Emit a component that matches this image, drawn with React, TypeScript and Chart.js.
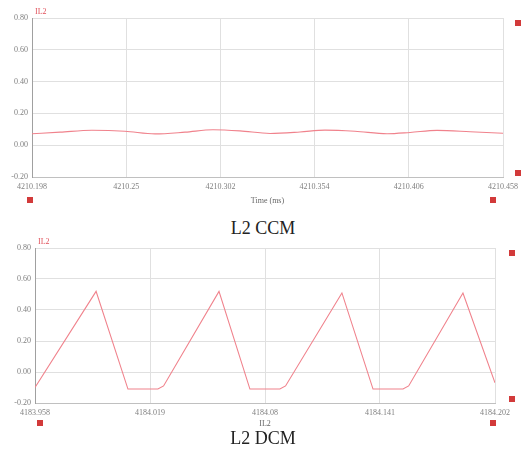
import React, { useEffect, useRef } from "react";
import Chart from "chart.js/auto";

// ---------- data ----------
const ccmTime = [
  4210.198, 4210.2135, 4210.2311, 4210.2493, 4210.2659, 4210.2825, 4210.2979,
  4210.3128, 4210.3294, 4210.3459, 4210.3597, 4210.3763, 4210.394, 4210.4067,
  4210.4216, 4210.4398, 4210.458,
];
const ccmCurrent = [
  0.072, 0.082, 0.094, 0.088, 0.071, 0.082, 0.097, 0.09, 0.074, 0.083, 0.095,
  0.088, 0.072, 0.08, 0.093, 0.085, 0.075,
];
const ccmTicks = [4210.198, 4210.25, 4210.302, 4210.354, 4210.406, 4210.458];
const ccmTickLabels = ["4210.198", "4210.25", "4210.302", "4210.354", "4210.406", "4210.458"];

const dcmTime = [
  4183.958, 4183.9904, 4184.0073, 4184.0232, 4184.0262, 4184.0556, 4184.072,
  4184.0879, 4184.0909, 4184.1208, 4184.1373, 4184.1532, 4184.1562, 4184.185,
  4184.202,
];
const dcmCurrent = [
  -0.1, 0.52, -0.11, -0.11, -0.09, 0.52, -0.11, -0.11, -0.09, 0.51, -0.11,
  -0.11, -0.09, 0.51, -0.07,
];
const dcmTicks = [4183.958, 4184.019, 4184.08, 4184.141, 4184.202];
const dcmTickLabels = ["4183.958", "4184.019", "4184.08", "4184.141", "4184.202"];

const yTicks = [-0.2, 0, 0.2, 0.4, 0.6, 0.8];

const seriesName = "IL2";
const ccmAxisTitle = "Time (ms)";
const dcmAxisTitle = "IL2";
const ccmCaption = "L2 CCM";
const dcmCaption = "L2 DCM";

// ---------- styling ----------
const LINE = "rgb(240,130,140)";
const GRID = "#e0e0e0";
const TICK = "#808080";
const FONT = "'Liberation Serif', 'Times New Roman', serif";

const decoPlugin = {
  id: "deco",
  afterDraw(chart: any) {
    const o = chart.options.plugins.deco;
    if (!o) return;
    const { ctx, chartArea: a } = chart;
    ctx.save();
    ctx.fillStyle = "#d23a3a";
    const sq = (x: number, y: number) => ctx.fillRect(x - 3, y - 3, 6, 6);
    sq(a.left + o.bl[0], a.bottom + o.bl[1]);
    sq(a.right + o.rt[0], a.top + o.rt[1]);
    sq(a.right + o.rb[0], a.bottom + o.rb[1]);
    sq(a.right + o.br[0], a.bottom + o.br[1]);
    ctx.fillStyle = "#e0505a";
    ctx.font = `8px ${FONT}`;
    ctx.textBaseline = "middle";
    ctx.textAlign = "left";
    ctx.fillText(o.label, a.left + 3, a.top - 6);
    ctx.restore();
  },
};

type Cfg = {
  xs: number[];
  ys: number[];
  ticks: number[];
  labels: string[];
  title: string;
  yWidth: number;
  xHeight: number;
  padTop: number;
  padRight: number;
  titlePadBottom: number;
  tension: number;
  deco: any;
};

function Panel({ cfg, height }: { cfg: Cfg; height: number }) {
  const ref = useRef<HTMLCanvasElement>(null);
  useEffect(() => {
    const data = cfg.xs.map((x, i) => ({ x, y: cfg.ys[i] }));
    const chart = new Chart(ref.current!, {
      type: "line",
      data: {
        datasets: [
          {
            data,
            borderColor: LINE,
            borderWidth: 1.1,
            pointRadius: 0,
            tension: cfg.tension,
            cubicInterpolationMode: cfg.tension > 0 ? "monotone" : "default",
          } as any,
        ],
      },
      options: {
        animation: false,
        responsive: false,
        events: [],
        layout: { padding: { top: cfg.padTop, right: cfg.padRight, left: 0, bottom: 0 } },
        plugins: {
          legend: { display: false },
          tooltip: { enabled: false },
          deco: cfg.deco,
        } as any,
        scales: {
          x: {
            type: "linear",
            min: cfg.ticks[0],
            max: cfg.ticks[cfg.ticks.length - 1],
            afterBuildTicks: (s: any) => {
              s.ticks = cfg.ticks.map((v) => ({ value: v }));
            },
            afterFit: (s: any) => {
              s.height = cfg.xHeight;
            },
            ticks: {
              autoSkip: false,
              maxRotation: 0,
              padding: 5,
              color: TICK,
              font: { family: FONT, size: 8 },
              callback: (_v: any, i: number) => cfg.labels[i],
            },
            grid: { color: GRID, drawTicks: false },
            border: { color: "#c0c0c0" },
            title: {
              display: true,
              text: cfg.title,
              color: "#666",
              font: { family: FONT, size: 8 },
              padding: { top: 0, bottom: cfg.titlePadBottom },
            },
          },
          y: {
            min: -0.2,
            max: 0.8,
            afterBuildTicks: (s: any) => {
              s.ticks = yTicks.map((v) => ({ value: v }));
            },
            afterFit: (s: any) => {
              s.width = cfg.yWidth;
            },
            ticks: {
              padding: 4,
              color: TICK,
              font: { family: FONT, size: 8 },
              callback: (v: any) => Number(v).toFixed(2),
            },
            grid: { color: GRID, drawTicks: false },
            border: { color: "#a0a0a0" },
          },
        },
      },
      plugins: [decoPlugin],
    });
    return () => chart.destroy();
  }, []);
  return <canvas ref={ref} width={526} height={height} style={{ display: "block", width: 526, height }} />;
}

const ccmCfg: Cfg = {
  xs: ccmTime,
  ys: ccmCurrent,
  ticks: ccmTicks,
  labels: ccmTickLabels,
  title: ccmAxisTitle,
  yWidth: 32,
  xHeight: 38,
  padTop: 18,
  padRight: 23,
  titlePadBottom: 9,
  tension: 0.4,
  deco: { bl: [-2, 23], rt: [15, 5], rb: [15, -4], br: [-10, 23], label: seriesName },
};

const dcmCfg: Cfg = {
  xs: dcmTime,
  ys: dcmCurrent,
  ticks: dcmTicks,
  labels: dcmTickLabels,
  title: dcmAxisTitle,
  yWidth: 35,
  xHeight: 28,
  padTop: 16,
  padRight: 31,
  titlePadBottom: 2,
  tension: 0,
  deco: { bl: [5, 20], rt: [17, 5], rb: [17, -4], br: [-2, 20], label: seriesName },
};

const captionStyle: React.CSSProperties = {
  position: "absolute",
  left: 0,
  width: 526,
  textAlign: "center",
  fontFamily: FONT,
  fontSize: 18,
  color: "#222",
  lineHeight: "20px",
};

export default function App() {
  return (
    <div style={{ position: "absolute", left: 0, top: 0, width: 526, height: 452, background: "#fff", overflow: "hidden" }}>
      <div style={{ position: "absolute", left: 0, top: 0 }}>
        <Panel cfg={ccmCfg} height={215} />
      </div>
      <div style={{ ...captionStyle, top: 218 }}>{ccmCaption}</div>
      <div style={{ position: "absolute", left: 0, top: 232 }}>
        <Panel cfg={dcmCfg} height={199} />
      </div>
      <div style={{ ...captionStyle, top: 428 }}>{dcmCaption}</div>
    </div>
  );
}
